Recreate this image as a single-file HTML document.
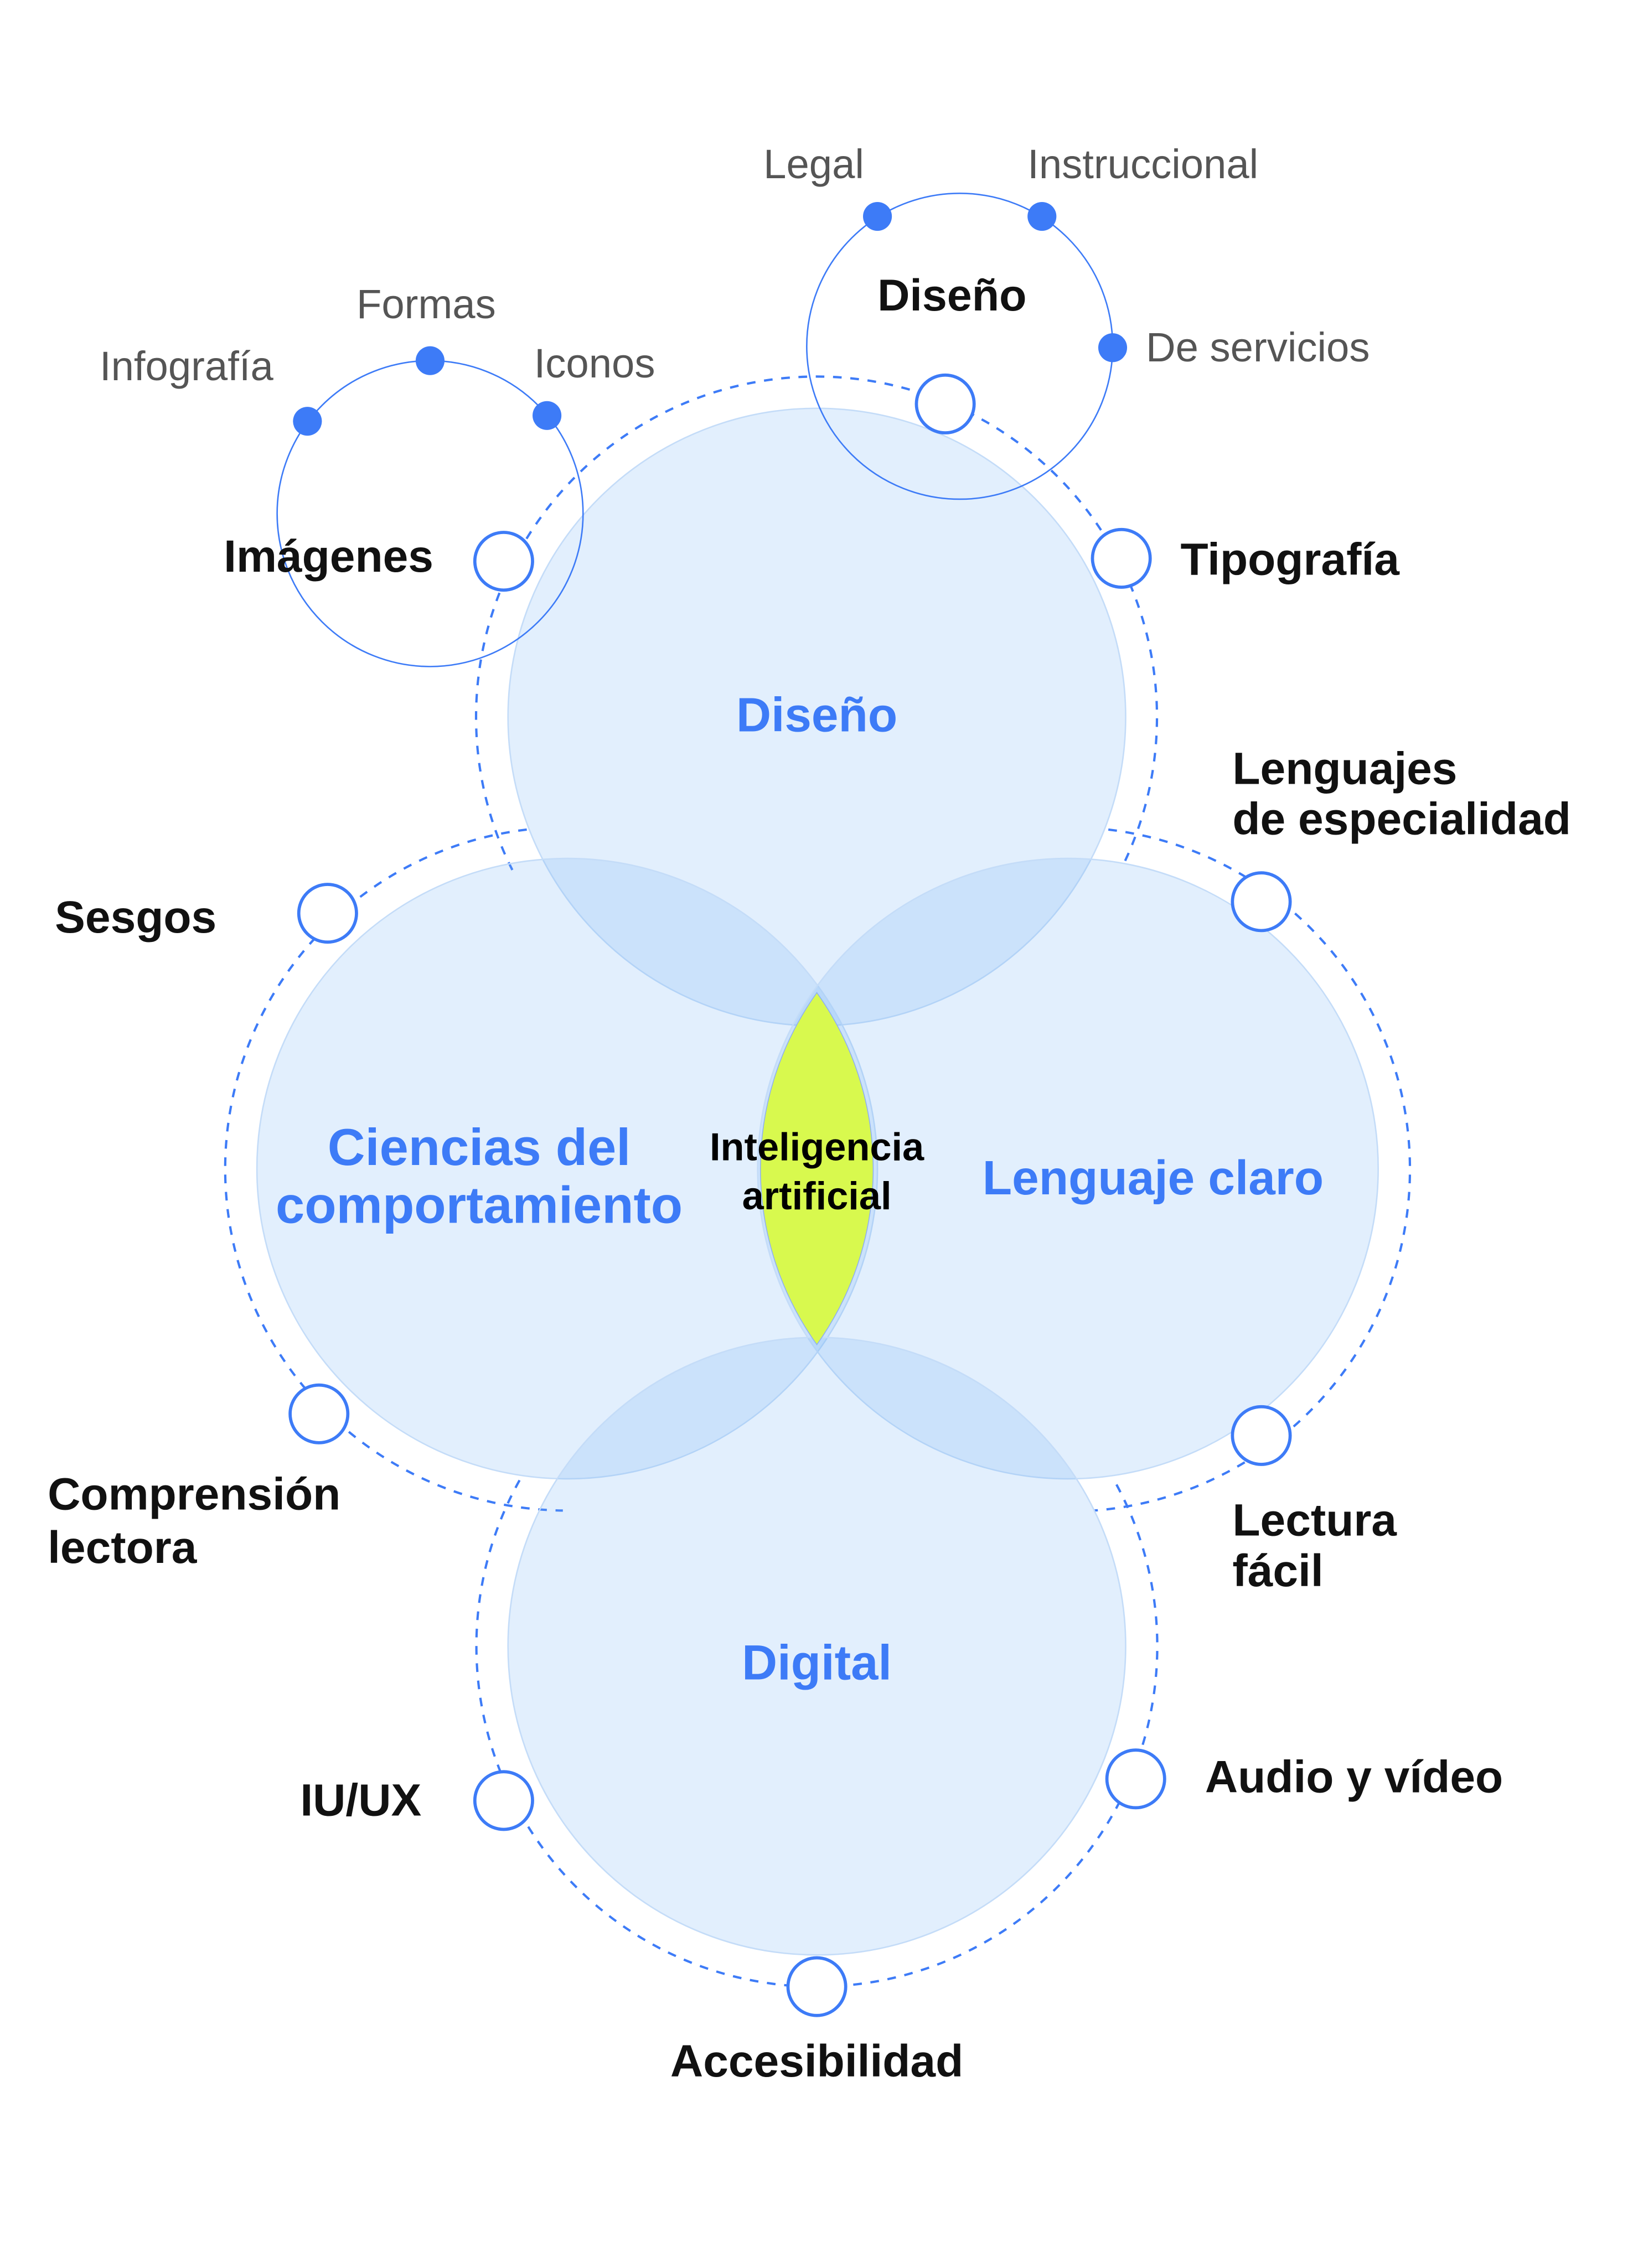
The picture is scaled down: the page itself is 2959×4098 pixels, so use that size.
<!DOCTYPE html>
<html><head><meta charset="utf-8"><style>
html,body{margin:0;padding:0;background:#fff;}
svg{display:block;}
text{font-family:"Liberation Sans",sans-serif;}
</style></head><body>
<svg width="2959" height="4098" viewBox="0 0 1135 1572" xmlns="http://www.w3.org/2000/svg">
<rect width="1135" height="1572" fill="#fff"/>
<!-- dashed rings -->
<g fill="none" stroke="#3d7bf7" stroke-width="1.6" stroke-dasharray="6 6">
<path d="M355 603 A236 236 0 0 1 566 261 A236 236 0 0 1 779 598"/>
<path d="M365 575 A237 237 0 0 0 156 810 A237 237 0 0 0 390 1047"/>
<path d="M768 575 A237 237 0 0 1 977 810 A237 237 0 0 1 758 1047"/>
<path d="M360 1026 A236 236 0 0 0 566 1377 A236 236 0 0 0 772 1026"/>
</g>
<!-- big circles -->
<g fill="rgb(115,178,245)" fill-opacity="0.207" stroke="#c4dcf8" stroke-width="1">
<circle cx="566" cy="497" r="214"/>
<circle cx="393" cy="810" r="215"/>
<circle cx="740" cy="810" r="215"/>
<circle cx="566" cy="1141" r="214"/>
</g>
<!-- lens -->
<path d="M566 688 A210 210 0 0 1 566 932 A210 210 0 0 1 566 688 Z" fill="#d8f94e" stroke="#8fb0f0" stroke-width="0.6"/>
<!-- top small circles -->
<g fill="none" stroke="#3d7bf7" stroke-width="1">
<circle cx="298" cy="356" r="106"/>
<circle cx="665" cy="240" r="106"/>
</g>
<g fill="#3d7bf7">
<circle cx="298" cy="250" r="10"/><circle cx="213" cy="292" r="10"/><circle cx="379" cy="288" r="10"/>
<circle cx="608" cy="150" r="10"/><circle cx="722" cy="150" r="10"/><circle cx="771" cy="241" r="10"/>
</g>
<!-- ring nodes -->
<g fill="#fff" stroke="#3d7bf7" stroke-width="2.2">
<circle cx="655" cy="280" r="20"/><circle cx="349" cy="389" r="20"/><circle cx="777" cy="387" r="20"/>
<circle cx="874" cy="625" r="20"/><circle cx="227" cy="633" r="20"/><circle cx="221" cy="980" r="20"/>
<circle cx="874" cy="995" r="20"/><circle cx="787" cy="1233" r="20"/><circle cx="349" cy="1248" r="20"/>
<circle cx="566" cy="1377" r="20"/>
</g>
<!-- blue titles -->
<g fill="#3d7bf7" font-weight="bold" text-anchor="middle" dominant-baseline="middle">
<text x="566" y="498" font-size="33.5">Diseño</text>
<text x="332" y="798" font-size="36">Ciencias del</text>
<text x="332" y="838" font-size="36">comportamiento</text>
<text x="799" y="819" font-size="33.5">Lenguaje claro</text>
<text x="566" y="1155" font-size="34">Digital</text>
</g>
<g fill="#000" font-weight="bold" text-anchor="middle" dominant-baseline="middle" font-size="27">
<text x="566" y="797">Inteligencia</text>
<text x="566" y="831">artificial</text>
</g>
<!-- black labels -->
<g fill="#111" font-weight="bold" font-size="31.5" dominant-baseline="middle">
<text x="155" y="388">Imágenes</text>
<text x="818" y="390">Tipografía</text>
<text x="854" y="535">Lenguajes</text>
<text x="854" y="570">de especialidad</text>
<text x="38" y="638">Sesgos</text>
<text x="33" y="1038">Comprensión</text>
<text x="33" y="1075">lectora</text>
<text x="854" y="1056">Lectura</text>
<text x="854" y="1091">fácil</text>
<text x="835" y="1234">Audio y vídeo</text>
<text x="208" y="1250">IU/UX</text>
<text x="566" y="1431" text-anchor="middle">Accesibilidad</text>
<text x="608" y="207" font-size="31">Diseño</text>
</g>
<g fill="#555" font-size="28.5" dominant-baseline="middle">
<text x="529" y="116">Legal</text>
<text x="712" y="116">Instruccional</text>
<text x="247" y="213">Formas</text>
<text x="69" y="256">Infografía</text>
<text x="370" y="254">Iconos</text>
<text x="794" y="243">De servicios</text>
</g>
</svg>
</body></html>
